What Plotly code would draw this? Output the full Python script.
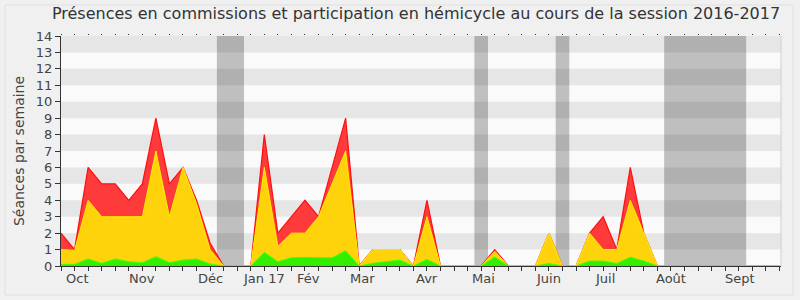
import plotly.graph_objects as go

weeks = list(range(54))
total = [2, 1, 6, 5, 5, 4, 5, 9, 5, 6, 4, 1.4, 0, 0, 0, 8, 2, 3, 4, 3,
         6, 9, 0, 1, 1, 1, 0, 4, 0, 0, 0, 0, 1, 0, 0, 0, 2, 0, 0, 2,
         3, 1, 6, 2, 0, 0, 0, 0, 0, 0, 0, 0, 0, 0]
commissions = [1, 0.95, 4, 3, 3, 3, 3, 7, 3, 6, 3.8, 1, 0, 0, 0, 6, 1.2, 2, 2, 3,
               5, 7, 0, 1, 1, 1, 0, 3, 0, 0, 0, 0, 0.9, 0, 0, 0, 2, 0, 0, 2,
               1, 1, 4, 2, 0, 0, 0, 0, 0, 0, 0, 0, 0, 0]
hemicycle = [0.1, 0.1, 0.43, 0.16, 0.43, 0.26, 0.2, 0.57, 0.2, 0.36, 0.43, 0.12, 0, 0, 0, 0.83, 0.26, 0.5, 0.53, 0.5,
             0.5, 0.93, 0, 0.16, 0.26, 0.36, 0, 0.4, 0, 0, 0, 0, 0.55, 0, 0, 0, 0.15, 0, 0, 0.3,
             0.3, 0.15, 0.53, 0.3, 0, 0, 0, 0, 0, 0, 0, 0, 0, 0]

month_labels = ["Oct", "Nov", "Déc", "Jan 17", "Fév", "Mar", "Avr", "Mai", "Juin", "Juil", "Août", "Sept"]
month_pos = [1.16, 6.0, 11.0, 15.0, 18.25, 22.25, 27.0, 31.2, 36.0, 40.1, 45.0, 50.1]

vacation_start = [11.5, 30.5, 36.5, 44.5]
vacation_end = [13.5, 31.5, 37.5, 50.55]

XMAX = 53.12

fig = go.Figure()
fig.add_trace(go.Scatter(x=weeks, y=total, mode="lines", fill="tozeroy",
                         line=dict(color="#ff1010", width=1.2),
                         fillcolor="#ff3a3a", hoverinfo="skip"))
fig.add_trace(go.Scatter(x=weeks, y=commissions, mode="lines", fill="tozeroy",
                         line=dict(color="#ffee00", width=1),
                         fillcolor="#ffd30b", hoverinfo="skip"))
fig.add_trace(go.Scatter(x=weeks, y=hemicycle, mode="lines", fill="tozeroy",
                         line=dict(color="#44ff00", width=1),
                         fillcolor="#33ee00", hoverinfo="skip"))

shapes = []
for s, e in zip(vacation_start, vacation_end):
    shapes.append(dict(type="rect", xref="x", yref="y", x0=s, x1=e, y0=0, y1=14,
                       fillcolor="#bfbfbf", line=dict(width=0), layer="below"))
for lo in range(1, 14, 2):
    shapes.append(dict(type="rect", xref="x", yref="y", x0=0, x1=XMAX, y0=lo, y1=lo + 1,
                       fillcolor="rgba(0,0,0,0.08)", line=dict(width=0), layer="below"))
# right border of plot
shapes.append(dict(type="line", xref="paper", yref="paper", x0=1, x1=1, y0=0, y1=1,
                   line=dict(color="#d0d0d0", width=1)))
# outer frame
shapes.append(dict(type="rect", xref="paper", yref="paper",
                   x0=-56/720, x1=1 + 12/720, y0=-29/230, y1=1 + 31/230,
                   line=dict(color="#e0e0e0", width=1), fillcolor="rgba(0,0,0,0)"))
fig.update_layout(shapes=shapes)

for lab, p in zip(month_labels, month_pos):
    fig.add_annotation(x=p, y=0, xref="x", yref="paper", text=lab, showarrow=False,
                       yanchor="top", yshift=-3, font=dict(family="DejaVu Sans", size=13, color="#444"))

fig.update_layout(
    width=800, height=300,
    margin=dict(l=61, r=19, t=36, b=34),
    paper_bgcolor="#f0f0f0",
    plot_bgcolor="#fafafa",
    showlegend=False,
    title=dict(text="Présences en commissions et participation en hémicycle au cours de la session 2016-2017",
               x=0.52, xanchor="center", y=0.955, yanchor="middle",
               font=dict(family="DejaVu Sans", size=16, color="#333")),
    xaxis=dict(range=[0, XMAX], tickmode="array", tickvals=weeks, ticktext=[""] * len(weeks),
               ticks="outside", ticklen=4, tickcolor="#333", showgrid=False, zeroline=False,
               showline=True, linecolor="#333", linewidth=1, fixedrange=True),
    xaxis2=dict(range=[0, XMAX], overlaying="x", side="top", tickmode="array", tickvals=weeks,
                ticktext=[""] * len(weeks), ticks="outside", ticklen=1, tickcolor="#333",
                showgrid=False, zeroline=False, showline=False),
    yaxis=dict(range=[0, 14], tickmode="array", tickvals=list(range(15)),
               ticks="outside", ticklen=5, tickcolor="#333", showgrid=False, zeroline=False,
               showline=True, linecolor="#333", linewidth=1,
               tickfont=dict(family="DejaVu Sans", size=13, color="#444"),
               title=dict(text="Séances par semaine", standoff=7,
                          font=dict(family="DejaVu Sans", size=14, color="#444"))),
)
fig.add_trace(go.Scatter(x=[0], y=[None], xaxis="x2", showlegend=False, hoverinfo="skip"))

fig.write_html("out.html")
